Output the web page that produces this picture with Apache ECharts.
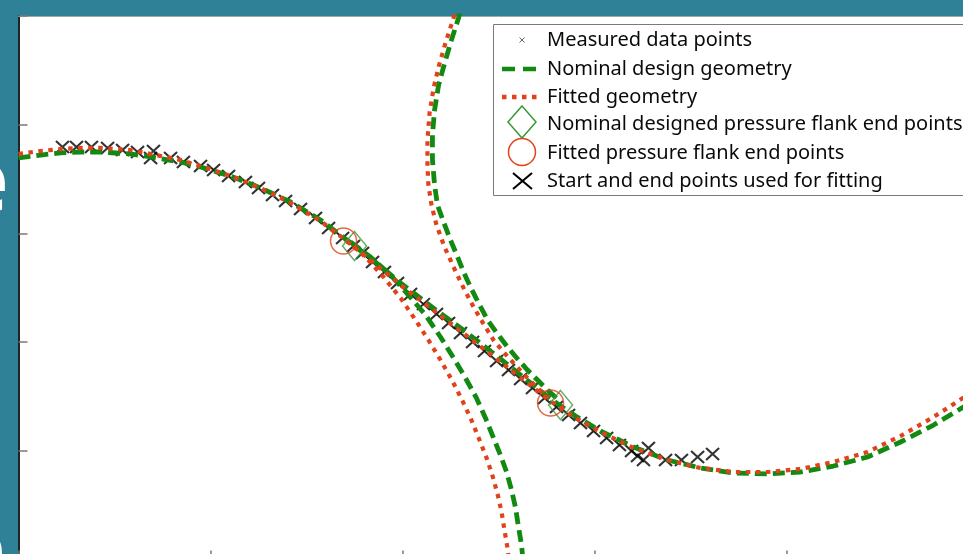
<!DOCTYPE html>
<html><head><meta charset="utf-8">
<script src="https://cdn.jsdelivr.net/npm/echarts@6/dist/echarts.min.js"></script>
<style>html,body{margin:0;padding:0;overflow:hidden;background:#2f8198;width:963px;height:554px}#c{width:1000px;height:600px}</style>
</head><body><div id="c"></div><script>
// ---- data (axis units) ----
const nominalMainX = [0, 0.115, 0.219, 0.323, 0.427, 0.583, 0.688, 0.844, 0.948, 1.104, 1.260, 1.417, 1.573, 1.703, 1.833, 1.990, 2.146, 2.302, 2.458, 2.615, 2.771, 2.901, 3.031, 3.203, 3.380, 3.552, 3.724, 3.901, 4.073, 4.245, 4.422, 4.594, 4.766, 5.0];
const nominalMainY = [3.694, 3.721, 3.740, 3.749, 3.749, 3.731, 3.703, 3.657, 3.611, 3.528, 3.418, 3.289, 3.123, 2.949, 2.774, 2.544, 2.332, 2.130, 1.918, 1.697, 1.477, 1.320, 1.182, 1.035, 0.915, 0.842, 0.796, 0.787, 0.805, 0.860, 0.943, 1.081, 1.237, 1.486];
const fittedMainX = [0, 0.115, 0.219, 0.323, 0.427, 0.583, 0.688, 0.844, 0.948, 1.104, 1.260, 1.417, 1.573, 1.703, 1.833, 1.990, 2.146, 2.302, 2.458, 2.615, 2.771, 2.901, 3.031, 3.203, 3.380, 3.552, 3.724, 3.901, 4.073, 4.245, 4.422, 4.594, 4.766, 5.0];
const fittedMainY = [3.731, 3.758, 3.776, 3.786, 3.786, 3.767, 3.731, 3.675, 3.620, 3.528, 3.418, 3.280, 3.114, 2.939, 2.755, 2.525, 2.314, 2.102, 1.891, 1.670, 1.458, 1.302, 1.173, 1.026, 0.915, 0.842, 0.805, 0.805, 0.833, 0.897, 0.989, 1.136, 1.311, 1.578];

const nominalTopArcX = [2.318, 2.292, 2.250, 2.214, 2.188, 2.167, 2.156, 2.156, 2.167, 2.182, 2.214, 2.250, 2.287, 2.318, 2.354, 2.396, 2.443, 2.495, 2.547, 2.599, 2.651, 2.703, 2.755, 2.813];
const nominalTopArcY = [5.193, 4.982, 4.752, 4.531, 4.365, 4.135, 3.905, 3.675, 3.445, 3.261, 3.105, 2.939, 2.783, 2.645, 2.507, 2.360, 2.203, 2.075, 1.955, 1.845, 1.743, 1.651, 1.559, 1.467];
const fittedTopArcX = [2.292, 2.266, 2.224, 2.188, 2.162, 2.141, 2.130, 2.130, 2.135, 2.151, 2.177, 2.219, 2.266, 2.318, 2.370, 2.422, 2.474, 2.526, 2.578, 2.641, 2.703, 2.760];
const fittedTopArcY = [5.193, 4.982, 4.752, 4.531, 4.338, 4.108, 3.859, 3.629, 3.445, 3.261, 3.077, 2.875, 2.691, 2.498, 2.323, 2.167, 2.019, 1.909, 1.808, 1.688, 1.578, 1.486];

const nominalLowArcX = [1.729, 1.833, 1.938, 2.031, 2.120, 2.198, 2.266, 2.328, 2.385, 2.432, 2.474, 2.510, 2.542, 2.568, 2.589, 2.604, 2.620, 2.630];
const nominalLowArcY = [2.921, 2.783, 2.617, 2.433, 2.249, 2.047, 1.854, 1.670, 1.486, 1.302, 1.118, 0.961, 0.805, 0.639, 0.474, 0.299, 0.133, -0.051];
const fittedLowArcX = [1.703, 1.807, 1.901, 1.990, 2.068, 2.135, 2.198, 2.260, 2.313, 2.359, 2.401, 2.438, 2.469, 2.495, 2.516, 2.531, 2.547, 2.557];
const fittedLowArcY = [2.939, 2.783, 2.599, 2.406, 2.203, 2.019, 1.835, 1.642, 1.458, 1.283, 1.099, 0.934, 0.768, 0.603, 0.437, 0.271, 0.106, -0.051];

const fitPointsX = [0.229, 0.302, 0.380, 0.464, 0.542, 0.620, 0.703, 0.688, 0.792, 0.859, 0.948, 1.016, 1.094, 1.182, 1.250, 1.323, 1.391, 1.469, 1.547, 1.615, 1.688, 1.745, 1.792, 1.844, 1.906, 1.974, 2.042, 2.109, 2.177, 2.240, 2.302, 2.365, 2.427, 2.490, 2.552, 2.615, 2.677, 2.740, 2.802, 2.865, 2.927, 2.995, 3.063, 3.130, 3.193, 3.224, 3.255, 3.281, 3.370, 3.453, 3.537, 3.615];
const fitPointsY = [3.795, 3.795, 3.795, 3.786, 3.767, 3.749, 3.758, 3.694, 3.694, 3.657, 3.620, 3.583, 3.528, 3.473, 3.418, 3.353, 3.298, 3.224, 3.142, 3.050, 2.958, 2.884, 2.820, 2.737, 2.645, 2.544, 2.443, 2.350, 2.259, 2.176, 2.084, 2.001, 1.918, 1.826, 1.743, 1.661, 1.578, 1.486, 1.403, 1.329, 1.256, 1.182, 1.118, 1.053, 0.998, 0.952, 0.915, 1.026, 0.915, 0.915, 0.943, 0.971];
const measuredX = [0.792, 0.859, 0.948, 1.016, 1.094, 1.182, 1.250, 1.323, 1.391, 1.469, 1.547, 1.615, 1.688, 1.745, 1.792, 1.844, 1.906, 1.974, 2.042, 2.109, 2.177, 2.240, 2.302, 2.365, 2.427, 2.490, 2.552, 2.615, 2.677, 2.740, 2.802, 2.865, 2.927, 2.995, 3.063, 3.130, 3.193];
const measuredY = [3.694, 3.657, 3.620, 3.583, 3.528, 3.473, 3.418, 3.353, 3.298, 3.224, 3.142, 3.050, 2.958, 2.884, 2.820, 2.737, 2.645, 2.544, 2.443, 2.350, 2.259, 2.176, 2.084, 2.001, 1.918, 1.826, 1.743, 1.661, 1.578, 1.486, 1.403, 1.329, 1.256, 1.182, 1.118, 1.053, 0.998];

const nominalEndX = [1.750, 2.823];
const nominalEndY = [2.884, 1.421];
const fittedEndX = [1.693, 2.771];
const fittedEndY = [2.930, 1.440];

const legendLabels = ['Measured data points', 'Nominal design geometry', 'Fitted geometry',
  'Nominal designed pressure flank end points', 'Fitted pressure flank end points', 'Start and end points used for fitting'];

// ---- styles ----
const GREEN = '#128a12', RED = '#e2421b', TEAL = '#2f8198';
const zip = (xs, ys) => xs.map((x, i) => [x, ys[i]]);
const XPATH = 'path://M0,0L10,10M10,0L0,10';

const chart = echarts.init(document.getElementById('c'), null, {renderer: 'canvas'});

function dashed(name, xs, ys) {
  return {type: 'line', name, data: zip(xs, ys), symbol: 'none', showSymbol: false, clip: true, z: 3,
    lineStyle: {color: GREEN, width: 4.8, type: [12, 6], cap: 'butt'}, silent: true, animation: false};
}
function dotted(name, xs, ys) {
  return {type: 'line', name, data: zip(xs, ys), symbol: 'none', showSymbol: false, clip: true, z: 4,
    lineStyle: {color: RED, width: 4.2, type: [4.5, 5.5], cap: 'butt'}, silent: true, animation: false};
}

const rowY = [40, 69, 97, 124, 153, 181];
const FONT = '20px "Noto Sans", "Liberation Sans", Arial, sans-serif';
const graphics = [
  {type: 'text', z: 1, style: {text: 'e', x: 9, y: 186, align: 'right', verticalAlign: 'middle', fill: '#ffffff', font: 'bold 90px "Noto Sans", sans-serif'}},
  {type: 'text', z: 1, style: {text: 'e', x: 6, y: 554, align: 'right', verticalAlign: 'middle', fill: '#ffffff', font: 'bold 90px "Noto Sans", sans-serif'}},
  {type: 'rect', z: 100, shape: {x: 493.5, y: 24.5, width: 520, height: 171}, style: {fill: '#ffffff', stroke: '#7a7a7a', lineWidth: 1}},
  {type: 'line', z: 101, shape: {x1: 519.5, y1: 37.5, x2: 524.5, y2: 42.5}, style: {stroke: '#666', lineWidth: 1}},
  {type: 'line', z: 101, shape: {x1: 524.5, y1: 37.5, x2: 519.5, y2: 42.5}, style: {stroke: '#666', lineWidth: 1}},
  {type: 'line', z: 101, shape: {x1: 502, y1: 69, x2: 537, y2: 69}, style: {stroke: GREEN, lineWidth: 4.5, lineDash: [13, 8]}},
  {type: 'line', z: 101, shape: {x1: 502, y1: 97, x2: 537, y2: 97}, style: {stroke: RED, lineWidth: 4.5, lineDash: [4.5, 5.5]}},
  {type: 'polygon', z: 101, shape: {points: [[522, 106], [536, 122], [522, 138], [508, 122]]}, style: {fill: 'none', stroke: '#3a9a3a', lineWidth: 1.5}},
  {type: 'circle', z: 101, shape: {cx: 522, cy: 152, r: 13.5}, style: {fill: 'none', stroke: RED, lineWidth: 1.5}},
  {type: 'line', z: 101, shape: {x1: 513, y1: 173, x2: 532, y2: 189}, style: {stroke: '#000', lineWidth: 2}},
  {type: 'line', z: 101, shape: {x1: 532, y1: 173, x2: 513, y2: 189}, style: {stroke: '#000', lineWidth: 2}}
];
legendLabels.forEach((t, i) => graphics.push({type: 'text', z: 101,
  style: {text: t, x: 547, y: rowY[i], verticalAlign: 'middle', fill: '#0a0a0a', font: FONT}}));

const option = {
  backgroundColor: TEAL,
  animation: false,
  grid: {left: 18.5, top: 16, width: 960, height: 543.5, show: true, backgroundColor: '#ffffff', borderWidth: 0},
  xAxis: [
    {type: 'value', min: 0, max: 5, interval: 1, position: 'bottom',
      axisLine: {show: true, onZero: false, lineStyle: {color: '#333', width: 1}},
      axisTick: {show: true, inside: true, length: 9, lineStyle: {color: '#7a7a7a', width: 1.5}},
      axisLabel: {show: false}, splitLine: {show: false}},
    {type: 'value', min: 0, max: 5, interval: 1, position: 'top',
      axisLine: {show: true, onZero: false, lineStyle: {color: '#9aa8ae', width: 1}},
      axisTick: {show: false}, axisLabel: {show: false}, splitLine: {show: false}}
  ],
  yAxis: {type: 'value', min: 0, max: 5, interval: 1,
    axisLine: {show: true, onZero: false, lineStyle: {color: '#222', width: 2}},
    axisTick: {show: true, inside: true, length: 9, lineStyle: {color: '#7a7a7a', width: 1.5}},
    axisLabel: {show: false}, splitLine: {show: false}},
  graphic: graphics,
  series: [
    {type: 'scatter', name: legendLabels[0], data: zip(measuredX, measuredY), symbol: XPATH, symbolSize: 5, z: 2,
      itemStyle: {color: 'none', borderColor: '#555', borderWidth: 1}, silent: true},
    {type: 'scatter', name: legendLabels[5], data: zip(fitPointsX, fitPointsY), symbol: XPATH, symbolSize: [13, 12], z: 2,
      itemStyle: {color: 'none', borderColor: '#000', borderWidth: 2}, silent: true},
    dashed(legendLabels[1], nominalMainX, nominalMainY),
    dashed(legendLabels[1] + ' top', nominalTopArcX, nominalTopArcY),
    dashed(legendLabels[1] + ' low', nominalLowArcX, nominalLowArcY),
    dotted(legendLabels[2], fittedMainX, fittedMainY),
    dotted(legendLabels[2] + ' top', fittedTopArcX, fittedTopArcY),
    dotted(legendLabels[2] + ' low', fittedLowArcX, fittedLowArcY),
    {type: 'scatter', name: legendLabels[3], data: zip(nominalEndX, nominalEndY), symbol: 'diamond', symbolSize: [24, 29], z: 5,
      itemStyle: {color: 'rgba(0,0,0,0)', borderColor: '#3a9a3a', borderWidth: 1.5}, silent: true},
    {type: 'scatter', name: legendLabels[4], data: zip(fittedEndX, fittedEndY), symbol: 'circle', symbolSize: 26, z: 5,
      itemStyle: {color: 'rgba(0,0,0,0)', borderColor: RED, borderWidth: 1.5}, silent: true}
  ]
};
chart.setOption(option);
</script></body></html>
